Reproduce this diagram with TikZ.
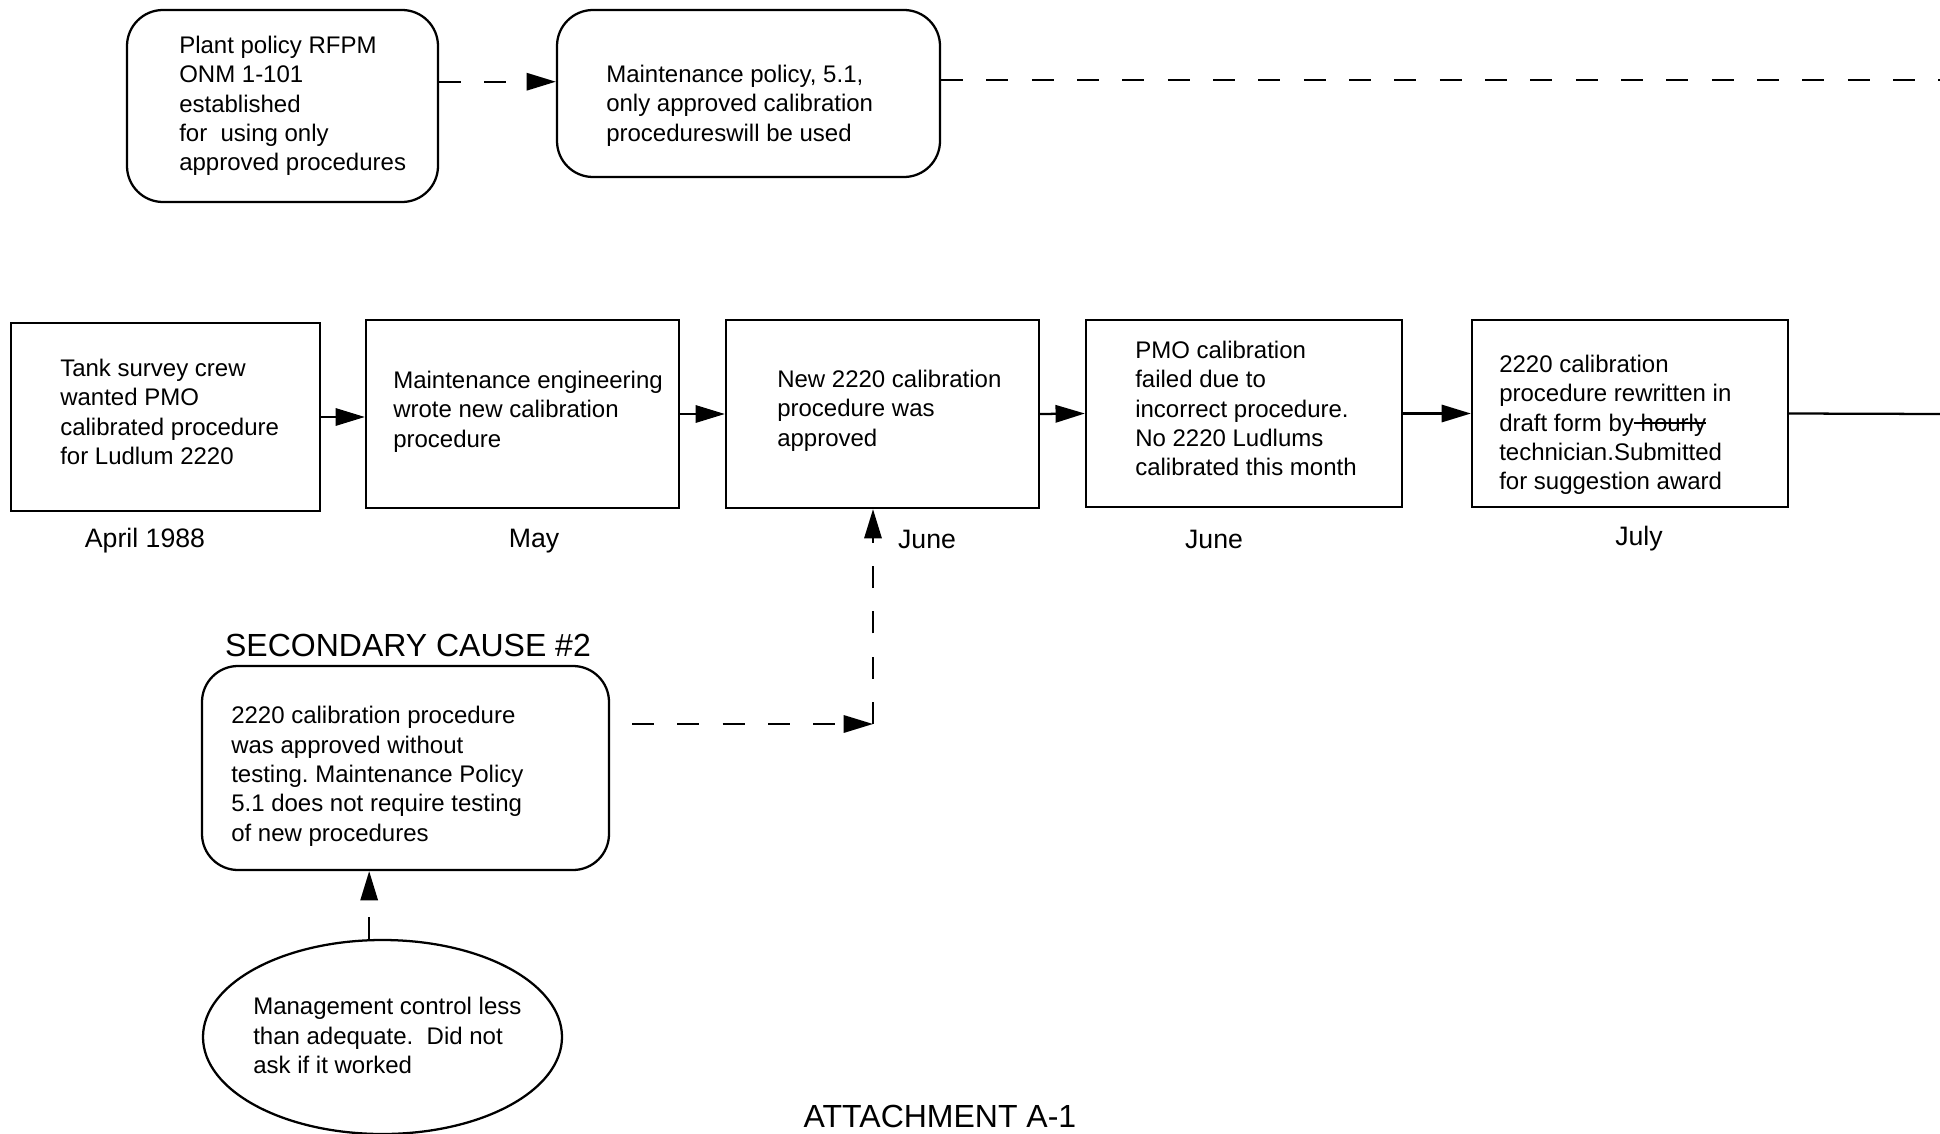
\documentclass[tikz,border=0pt]{standalone}
\usepackage{fontspec}
\setmainfont{Liberation Sans}
\usetikzlibrary{calc,arrows.meta,shapes.geometric,positioning}
\frenchspacing

\newcommand{\strikeword}[1]{\setbox0\hbox{#1}\rlap{\rule[0.32em]{\wd0}{1.1pt}}\box0}

\tikzset{
  outline/.style={draw, line width=1.7pt},
  roundbox/.style={outline, rounded corners=27pt, inner sep=0pt},
  squarebox/.style={outline, inner sep=0pt},
  ellbox/.style={outline, ellipse, inner sep=0pt},
  boxtext/.style={anchor=north west, inner sep=0.75pt, align=left, font=\fontsize{18pt}{22pt}\selectfont},
  datelabel/.style={inner sep=0.75pt, font=\fontsize{20pt}{24pt}\selectfont},
  headlabel/.style={inner sep=0.75pt, font=\fontsize{24pt}{28pt}\selectfont},
  solidarrow/.style={line width=1.7pt, -{Triangle[length=22pt,width=13pt]}},
  dasharrow/.style={solidarrow, dash pattern=on 16.5pt off 17.5pt},
  dashline/.style={line width=1.7pt, dash pattern=on 16.5pt off 17.5pt},
}

\begin{document}
\begin{tikzpicture}[x=0.75pt,y=0.75pt,yscale=-1,xscale=1]
                  \useasboundingbox (0,0) rectangle (1940,1134);

                  %Rounded Rect
                  \node[roundbox, minimum width=233.25pt, minimum height=144pt] (plant) at (282.5,106) {};
                  %Rounded Rect
                  \node[roundbox, minimum width=287.25pt, minimum height=125.25pt] (maint) at (748.5,93.5) {};

                  %Shape: Rectangle
                  \node[squarebox, minimum width=231.75pt, minimum height=141pt] (crew) at (165.5,417) {};
                  %Shape: Rectangle
                  \node[squarebox, minimum width=234.75pt, minimum height=141pt] (wrote) at (522.5,414) {};
                  %Shape: Rectangle
                  \node[squarebox, minimum width=234.75pt, minimum height=141pt] (approved) at (882.5,414) {};
                  %Shape: Rectangle
                  \node[squarebox, minimum width=237pt, minimum height=140.25pt] (failed) at (1244,413.5) {};
                  %Shape: Rectangle
                  \node[squarebox, minimum width=237pt, minimum height=140.25pt] (rewritten) at (1630,413.5) {};

                  %Rounded Rect
                  \node[roundbox, minimum width=305.25pt, minimum height=153pt] (cause) at (405.5,768) {};
                  %Shape: Ellipse
                  \node[ellbox, minimum width=269.25pt, minimum height=145.5pt] (mgmt) at (382.5,1037) {};

                  \coordinate (rimtop) at (1940,80);
                  \coordinate (rimmid) at (1940,414);
                  \coordinate (causeout) at (632,724);
                  \coordinate (bend) at (873,724);
                  \coordinate (mgmtup) at ([xshift=-10pt]mgmt.north);

                  %Straight Lines
                  \draw[dasharrow] ($(plant.north east)!0.375!(plant.south east)$) coordinate (pm) -- (pm -| maint.west);
                  %Straight Lines
                  \draw[dashline] (maint.east |- rimtop) -- (rimtop);
                  %Straight Lines
                  \draw[solidarrow] (crew.east) -- (crew.east -| wrote.west);
                  \draw[solidarrow] (wrote.east) -- (approved.west);
                  \draw[solidarrow] (approved.east) -- (failed.west);
                  \draw[solidarrow] (failed.east) -- (rewritten.west);
                  \draw[line width=1.7pt] (rewritten.east) -- (rimmid);
                  %Straight Lines
                  \draw[dasharrow] (causeout) -- (bend);
                  \draw[dasharrow] (bend) -- (bend |- approved.south);
                  %Straight Lines
                  \draw[dasharrow] (mgmtup) -- (mgmtup |- cause.south);

                  % Text Node
                  \node[boxtext] (plant-t) at (178,35) {Plant policy RFPM\\ONM 1-101\\established\\for\ \ using only\\approved procedures};
                  % Text Node
                  \node[boxtext] (maint-t) at (605,64) {Maintenance policy, 5.1,\\only approved calibration\\procedureswill be used};
                  % Text Node
                  \node[boxtext] (crew-t) at (59,358) {Tank survey crew\\wanted PMO\\calibrated procedure\\for Ludlum 2220};
                  % Text Node
                  \node[boxtext] (wrote-t) at (392,370) {Maintenance engineering\\wrote new calibration\\procedure};
                  % Text Node
                  \node[boxtext] (approved-t) at (776,369) {New 2220 calibration\\procedure was\\approved};
                  % Text Node
                  \node[boxtext] (failed-t) at (1134,340) {PMO calibration\\failed due to\\incorrect procedure.\\No 2220 Ludlums\\calibrated this month};
                  % Text Node
                  \node[boxtext] (rewritten-t) at (1498,354) {2220 calibration\\procedure rewritten in\\draft form by\strikeword{\ hourly}\\technician.Submitted\\for suggestion award};
                  % Text Node
                  \node[boxtext] (cause-t) at (230,705) {2220 calibration procedure\\was approved without\\testing. Maintenance Policy\\5.1 does not require testing\\of new procedures};
                  % Text Node
                  \node[boxtext] (mgmt-t) at (252,996) {Management control less\\than adequate.\ \ Did not\\ask if it worked};

                  % Text Node
                  \node[datelabel] (april) at (145,541) {April 1988};
                  % Text Node
                  \node[datelabel] (may) at (534,541) {May};
                  % Text Node
                  \node[datelabel] (june-a) at (927,539) {June};
                  % Text Node
                  \node[datelabel] (june-b) at (1214,539) {June};
                  % Text Node
                  \node[datelabel] (july) at (1639,539) {July};

                  % Text Node
                  \node[headlabel] (causehead) at (408,645) {SECONDARY CAUSE \#2};
                  % Text Node
                  \node[headlabel] (attach) at (940,1116) {ATTACHMENT A-1};

\end{tikzpicture}
\end{document}
